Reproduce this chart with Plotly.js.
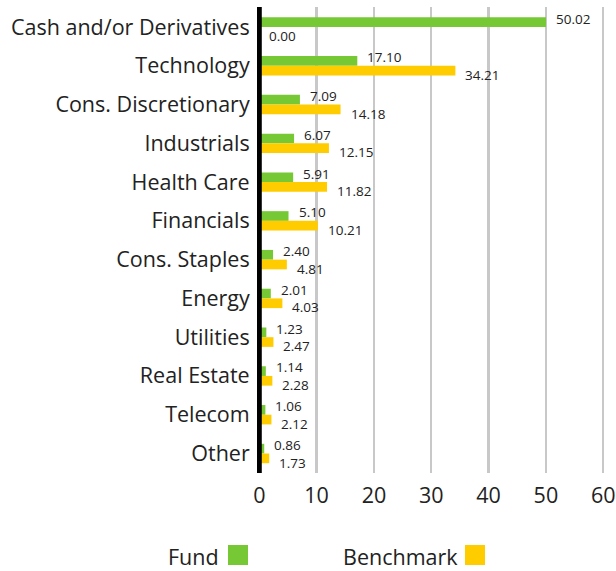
<!DOCTYPE html>
<html>
<head>
<meta charset="utf-8">
<script src="https://cdn.plot.ly/plotly-3.0.1.min.js"></script>
<style>html,body{margin:0;padding:0;background:#fff;}#chart{width:616px;height:571px;}</style>
</head>
<body>
<div id="chart"></div>
<script>
const categories = ["Cash and/or Derivatives","Technology","Cons. Discretionary","Industrials","Health Care","Financials","Cons. Staples","Energy","Utilities","Real Estate","Telecom","Other"];
const fundValues = [50.02,17.10,7.09,6.07,5.91,5.10,2.40,2.01,1.23,1.14,1.06,0.86];
const benchmarkValues = [0.00,34.21,14.18,12.15,11.82,10.21,4.81,4.03,2.47,2.28,2.12,1.73];
const xTicks = [0,10,20,30,40,50,60];
const seriesNames = ["Fund","Benchmark"];

const FONT = "'Open Sans', sans-serif";
const GREEN = "#76c834";
const YELLOW = "#ffcc00";
const L = 257, R = 10, T = 7, B = 98, W = 616, H = 571;
const pw = W - L - R, ph = H - T - B;
const px = x => (x - L) / pw;
const py = y => (H - B - y) / ph;

const traces = [
  {type:"bar", orientation:"h", name:seriesNames[0], y:categories, x:fundValues, marker:{color:GREEN}, hoverinfo:"x"},
  {type:"bar", orientation:"h", name:seriesNames[1], y:categories, x:benchmarkValues, marker:{color:YELLOW}, hoverinfo:"x"}
];

const annotations = [];
categories.forEach((c,i)=>{
  annotations.push({x:fundValues[i], y:c, xref:"x", yref:"y", text:fundValues[i].toFixed(2), showarrow:false, xanchor:"left", yanchor:"middle", xshift:8, yshift:8.5, font:{family:FONT,size:13.5,color:"#222"}});
  annotations.push({x:benchmarkValues[i], y:c, xref:"x", yref:"y", text:benchmarkValues[i].toFixed(2), showarrow:false, xanchor:"left", yanchor:"middle", xshift:8, yshift:-9, font:{family:FONT,size:13.5,color:"#222"}});
});
// custom legend (text left of swatch)
annotations.push({xref:"paper", yref:"paper", x:px(221), y:py(556), text:seriesNames[0], showarrow:false, xanchor:"right", yanchor:"middle", font:{family:FONT,size:21.5,color:"#222"}});
annotations.push({xref:"paper", yref:"paper", x:px(460), y:py(556), text:seriesNames[1], showarrow:false, xanchor:"right", yanchor:"middle", font:{family:FONT,size:21.5,color:"#222"}});

const shapes = [
  {type:"line", xref:"x", yref:"paper", x0:0, x1:0, y0:0, y1:1, line:{color:"#000", width:5}, layer:"above"},
  {type:"rect", xref:"paper", yref:"paper", x0:px(228), x1:px(248), y0:py(565), y1:py(545), fillcolor:GREEN, line:{width:0}},
  {type:"rect", xref:"paper", yref:"paper", x0:px(465), x1:px(485), y0:py(565), y1:py(545), fillcolor:YELLOW, line:{width:0}}
];

const layout = {
  width:W, height:H,
  margin:{l:L, r:R, t:T, b:B, pad:0},
  paper_bgcolor:"#fff", plot_bgcolor:"#fff",
  barmode:"group", bargap:0.5, bargroupgap:0,
  showlegend:false,
  font:{family:FONT, color:"#222"},
  xaxis:{range:[-0.4,60.49], tickvals:xTicks, ticktext:xTicks.map(String), showgrid:true, gridcolor:"#c8c8c8", gridwidth:2.5, zeroline:false, showline:false, ticks:"outside", ticklen:3, tickcolor:"rgba(0,0,0,0)", ticklabeloverflow:"allow", tickfont:{family:FONT,size:21.5,color:"#222"}, fixedrange:true},
  yaxis:{autorange:"reversed", type:"category", showgrid:false, zeroline:false, showline:false, ticks:"outside", ticklen:2, tickcolor:"rgba(0,0,0,0)", tickfont:{family:FONT,size:21.5,color:"#222"}, fixedrange:true},
  annotations:annotations,
  shapes:shapes
};

Plotly.newPlot("chart", traces, layout, {displayModeBar:false, staticPlot:true});
</script>
</body>
</html>
